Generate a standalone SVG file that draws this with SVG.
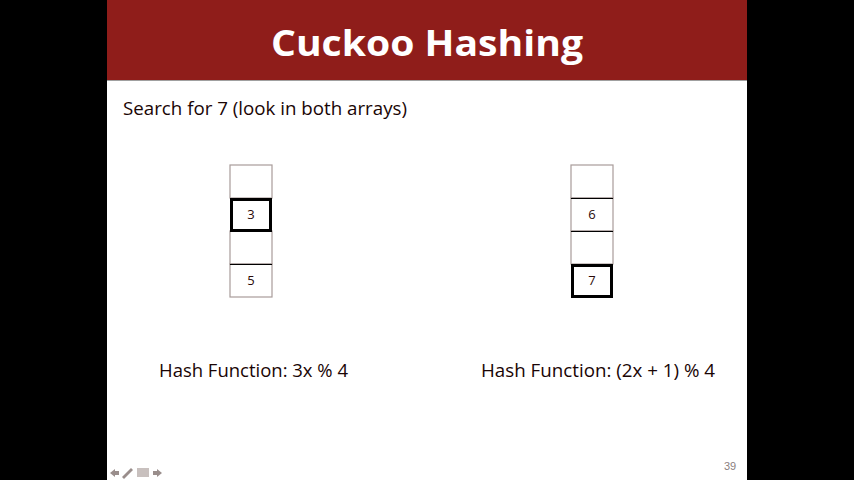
<svg xmlns="http://www.w3.org/2000/svg" width="854" height="480" viewBox="0 0 854 480">
<style>
.cell{fill:#fff;stroke:#a89c9a;stroke-width:1.2}
.bold{fill:#fff;stroke:#000;stroke-width:3}
.num{font-family:"Open Sans","Liberation Sans",sans-serif;font-size:13px;fill:#2a0a0a;text-anchor:middle}
.body{font-family:"Open Sans","Liberation Sans",sans-serif;font-size:18px;fill:#1a0505}
</style>
<rect width="854" height="480" fill="#000"/>
<rect x="107" y="0" width="640" height="480" fill="#fff"/>
<rect x="107" y="0" width="640" height="80" fill="#8f1d1a"/>
<line x1="107" y1="80.5" x2="747" y2="80.5" stroke="#a0a0a0" stroke-width="1"/>
<text x="427" y="56" text-anchor="middle" font-family="'Open Sans','DejaVu Sans',sans-serif" font-weight="bold" font-size="35" fill="#fff" textLength="312" lengthAdjust="spacingAndGlyphs">Cuckoo Hashing</text>
<text class="body" x="123" y="115" textLength="284" lengthAdjust="spacingAndGlyphs">Search for 7 (look in both arrays)</text>
<g id="left-array">
<rect class="cell" x="230" y="165" width="42" height="33"/>
<rect class="cell" x="230" y="231" width="42" height="33"/>
<rect class="cell" x="230" y="264" width="42" height="33"/>
<line x1="230" y1="264.5" x2="272" y2="264.5" stroke="#000" stroke-width="1"/>
<rect class="bold" x="231.5" y="199.5" width="39" height="31"/>
<text class="num" x="251" y="219">3</text>
<text class="num" x="251" y="285">5</text>
</g>
<g id="right-array">
<rect class="cell" x="571" y="165" width="42" height="33"/>
<rect class="cell" x="571" y="198" width="42" height="33"/>
<rect class="cell" x="571" y="231" width="42" height="33"/>
<line x1="571" y1="198.5" x2="613" y2="198.5" stroke="#000" stroke-width="1"/>
<line x1="571" y1="231.5" x2="613" y2="231.5" stroke="#000" stroke-width="1"/>
<rect class="bold" x="572.5" y="265.5" width="39" height="31"/>
<text class="num" x="592" y="219">6</text>
<text class="num" x="592" y="285">7</text>
</g>
<text class="body" x="159" y="377" textLength="189" lengthAdjust="spacingAndGlyphs">Hash Function: 3x % 4</text>
<text class="body" x="481" y="377" textLength="234" lengthAdjust="spacingAndGlyphs">Hash Function: (2x + 1) % 4</text>
<text x="730" y="470" text-anchor="middle" font-family="'Liberation Sans',sans-serif" font-size="11" fill="#8a8080">39</text>
<g fill="#9a8e8c">
<path d="M110 473 l5 -4 v2 h4 v4 h-4 v2 z"/>
<path d="M122 477 l9 -9 l2 2 l-9 9 z"/>
<rect x="137" y="468" width="12" height="9" fill="#c8c0be"/>
<path d="M162 473 l-5 -4 v2 h-4 v4 h4 v2 z"/>
</g>
</svg>
